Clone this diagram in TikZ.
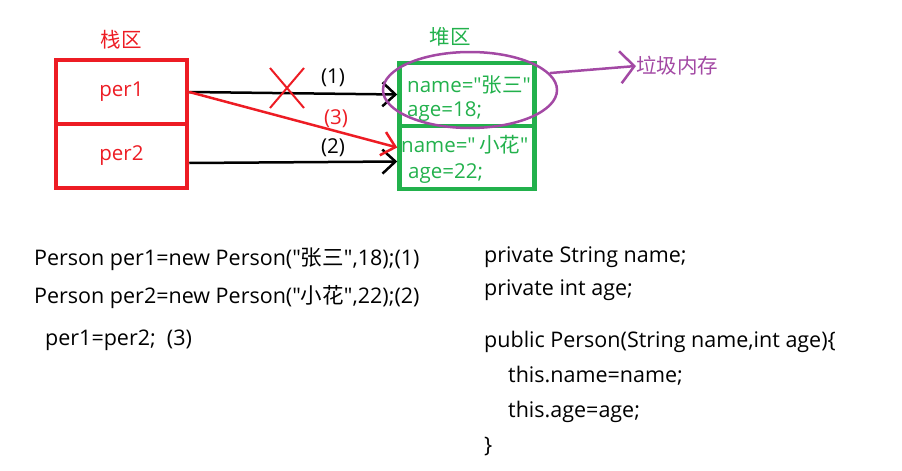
\documentclass[tikz,border=0pt]{standalone}
\usepackage{fontspec}
\setmainfont{Open Sans}[Ligatures=TeXOff]
\newfontfamily\cjk{Noto Sans CJK SC}
\usepackage{tikz}
\usetikzlibrary{arrows.meta,shapes.geometric,shapes.misc}
\definecolor{stackred}{RGB}{237,28,36}
\definecolor{heapgreen}{RGB}{34,177,76}
\definecolor{junkpurple}{RGB}{163,73,164}
\tikzset{
	stackcell/.style={draw=stackred, line width=4.5pt, minimum width=131pt, minimum height=64pt, text=stackred, inner sep=0pt},
	heapcell/.style={draw=heapgreen, line width=4.5pt, minimum width=135pt, minimum height=63pt, inner sep=0pt},
	codeline/.style={anchor=base west, inner sep=0pt, font=\fontsize{21.5}{25}\selectfont},
	ref/.style={line width=2.5pt, -{Straight Barb[length=13pt,width=24pt,line width=2.5pt]}}
}

\begin{document}
\begin{tikzpicture}[x=1pt, y=-1pt, font=\fontsize{20.5}{24}\selectfont]
		%%%%% START %%%%%
		\useasboundingbox (0, 0) rectangle (902, 471);
		
		% stack
		\node[text=stackred] (stacklabel) at (121, 40) {\cjk 栈区};
		\node[stackcell] (per1) at (121.5, 92) {per1};
		\node[stackcell] (per2) at (121.5, 156) {per2};
		
		% heap
		\node[text=heapgreen] (heaplabel) at (450, 37) {\cjk 堆区};
		\node[heapcell] (obj1) at (467, 94.5) {};
		\node[heapcell] (obj2) at (467, 157.5) {};
		\node[codeline, font=\fontsize{20.5}{24}\selectfont, text=heapgreen] (name1) at (407, 92) {name="{\cjk 张三}"};
		\node[codeline, font=\fontsize{20.5}{24}\selectfont, text=heapgreen] (age1) at (407, 116) {age=18;};
		\node[codeline, font=\fontsize{20.5}{24}\selectfont, text=heapgreen] (name2) at (401, 152) {name="\,{\cjk 小花}"};
		\node[codeline, font=\fontsize{20.5}{24}\selectfont, text=heapgreen] (age2) at (408, 178) {age=22;};
		
		% references
		\draw[ref, color=black] (per1.east) -- (obj1.west);
		\draw[ref, color=black] ([yshift=-7pt]per2.east) -- ([yshift=-4pt]obj2.west);
		\draw[ref, color=stackred] (per1.east) -- ([yshift=10pt]obj2.west);
		\node (step1) at (333, 78) {(1)};
		\node (step2) at (333, 148) {(2)};
		\node[text=stackred] (step3) at (336, 119) {(3)};
		\node[cross out, draw=stackred, line width=2pt, minimum width=32pt, minimum height=38pt, inner sep=0pt] (cut) at (287, 88) {};
		
		% garbage
		\node[ellipse, draw=junkpurple, line width=2.5pt, minimum width=174pt, minimum height=76pt] (junk) at (470, 90) {};
		\node[text=junkpurple, anchor=west, inner sep=0pt] (junklabel) at (636, 66) {\cjk 垃圾内存};
		\draw[line width=2.5pt, color=junkpurple, -{Straight Barb[length=14pt,width=32pt,line width=2.5pt]}] (junk.12) -- (junklabel.west);
		
		% code
		\node[codeline] (line1) at (34, 265) {Person per1=new Person("{\cjk 张三}",18);(1)};
		\node[codeline] (line2) at (34, 303) {Person per2=new Person("{\cjk 小花}",22);(2)};
		\node[codeline] (line3) at (45, 345) {per1=per2;\ \ (3)};
		\node[codeline] (field1) at (484, 262) {private String name;};
		\node[codeline] (field2) at (484, 295) {private int age;};
		\node[codeline] (ctor) at (484, 347) {public Person(String name,int age)\{};
		\node[codeline] (body1) at (508, 382) {this.name=name;};
		\node[codeline] (body2) at (508, 417) {this.age=age;};
		\node[codeline] (close) at (484, 452) {\}};
		%%%%% END %%%%%
\end{tikzpicture}
\end{document}
